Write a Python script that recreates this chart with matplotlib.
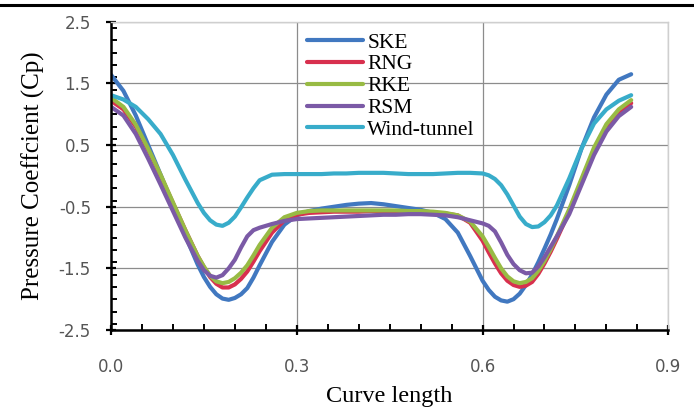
import matplotlib
matplotlib.use('Agg')
import matplotlib.pyplot as plt
from matplotlib.ticker import MultipleLocator
from matplotlib.lines import Line2D

# Curve length positions along the section (finer steps around the suction peaks)
curve_len = [0.00, 0.02, 0.04, 0.06, 0.08, 0.10, 0.12,
             0.14, 0.15, 0.16, 0.17, 0.18, 0.19, 0.20, 0.21, 0.22, 0.23, 0.24,
             0.26, 0.28, 0.30, 0.32, 0.34, 0.36, 0.38, 0.40, 0.42, 0.44, 0.46,
             0.48, 0.50, 0.52, 0.54, 0.56, 0.58,
             0.60, 0.61, 0.62, 0.63, 0.64, 0.65, 0.66, 0.67, 0.68, 0.69, 0.70,
             0.71, 0.72,
             0.74, 0.76, 0.78, 0.80, 0.82, 0.84]

# Cp for each turbulence model and the wind-tunnel test
cp_ske = [1.64, 1.38, 0.98, 0.50, 0.02, -0.47, -0.97,
          -1.44, -1.64, -1.80, -1.92, -1.99, -2.01, -1.98, -1.92, -1.82, -1.65, -1.45,
          -1.07, -0.79, -0.64, -0.57, -0.53, -0.50, -0.47, -0.45, -0.44, -0.46, -0.49,
          -0.52, -0.55, -0.60, -0.70, -0.92, -1.30,
          -1.70, -1.85, -1.96, -2.02, -2.04, -2.00, -1.91, -1.77, -1.60, -1.40, -1.18,
          -0.95, -0.70,
          -0.15, 0.45, 0.95, 1.32, 1.56, 1.65]
cp_rng = [1.22, 1.08, 0.80, 0.42, 0.00, -0.44, -0.88,
          -1.30, -1.48, -1.64, -1.75, -1.81, -1.81, -1.76, -1.67, -1.55, -1.39, -1.22,
          -0.92, -0.72, -0.63, -0.60, -0.59, -0.58, -0.58, -0.58, -0.57, -0.58, -0.58,
          -0.59, -0.59, -0.60, -0.61, -0.64, -0.76,
          -1.05, -1.24, -1.42, -1.58, -1.70, -1.77, -1.80, -1.78, -1.72, -1.59, -1.42,
          -1.23, -1.02,
          -0.58, -0.08, 0.42, 0.80, 1.04, 1.18]
cp_rke = [1.27, 1.12, 0.83, 0.44, 0.02, -0.43, -0.88,
          -1.30, -1.47, -1.62, -1.71, -1.74, -1.72, -1.66, -1.57, -1.45, -1.29, -1.12,
          -0.84, -0.67, -0.60, -0.57, -0.56, -0.56, -0.56, -0.56, -0.56, -0.56, -0.56,
          -0.57, -0.57, -0.58, -0.60, -0.64, -0.74,
          -0.98, -1.15, -1.33, -1.50, -1.63, -1.71, -1.74, -1.72, -1.66, -1.54, -1.38,
          -1.19, -0.98,
          -0.54, -0.04, 0.46, 0.84, 1.08, 1.23]
cp_rsm = [1.12, 0.98, 0.68, 0.28, -0.14, -0.57, -1.00,
          -1.38, -1.53, -1.62, -1.65, -1.61, -1.50, -1.36, -1.16, -0.98, -0.88, -0.84,
          -0.78, -0.73, -0.70, -0.69, -0.68, -0.67, -0.66, -0.65, -0.64, -0.63, -0.63,
          -0.62, -0.62, -0.63, -0.64, -0.67, -0.72,
          -0.77, -0.81, -0.90, -1.08, -1.28, -1.43, -1.53, -1.58, -1.57, -1.47, -1.32,
          -1.15, -0.98,
          -0.62, -0.14, 0.34, 0.72, 0.97, 1.12]
cp_wind = [1.31, 1.24, 1.12, 0.92, 0.68, 0.34, -0.06,
           -0.44, -0.60, -0.72, -0.79, -0.81, -0.76, -0.66, -0.51, -0.35, -0.20, -0.07,
           0.02, 0.03, 0.03, 0.03, 0.03, 0.04, 0.04, 0.05, 0.05, 0.05, 0.04,
           0.03, 0.03, 0.03, 0.04, 0.05, 0.05,
           0.04, 0.01, -0.05, -0.15, -0.30, -0.48, -0.66, -0.78, -0.83, -0.82, -0.75,
           -0.64, -0.48,
           -0.04, 0.45, 0.85, 1.08, 1.22, 1.31]

labels = ["SKE", "RNG", "RKE", "RSM", "Wind-tunnel"]
colors = ["#4178C0", "#D8304E", "#98BB44", "#7B5AA6", "#38ACCA"]
series = [cp_ske, cp_rng, cp_rke, cp_rsm, cp_wind]

xticks = [0.0, 0.3, 0.6, 0.9]
yticks = [-2.5, -1.5, -0.5, 0.5, 1.5, 2.5]

fig = plt.figure(figsize=(6.94, 4.12), dpi=100)
ax = fig.add_axes([0.160, 0.199, 0.803, 0.748])

# rule across the top of the page
fig.add_artist(Line2D([0, 1], [0.988, 0.988], color="black", lw=2.2,
                      transform=fig.transFigure))

for y, lab, c in zip(series, labels, colors):
    ax.plot(curve_len, y, color=c, lw=3.0, label=lab,
            solid_capstyle="round", solid_joinstyle="round")

ax.set_xlim(0, 0.9)
ax.set_ylim(-2.5, 2.5)
ax.set_xticks(xticks)
ax.set_xticklabels([f"{v:.1f}" for v in xticks])
ax.set_yticks(yticks)
ax.set_yticklabels([f"{v:.1f}" for v in yticks])
ax.xaxis.set_minor_locator(MultipleLocator(0.05))
ax.yaxis.set_minor_locator(MultipleLocator(0.2))

ax.grid(True, which="major", color="#8c8c8c", lw=0.9)
ax.set_axisbelow(True)

for side in ["top", "right"]:
    ax.spines[side].set_color("#cfcfcf")
    ax.spines[side].set_linewidth(1.0)
for side in ["left", "bottom"]:
    ax.spines[side].set_color("black")
    ax.spines[side].set_linewidth(1.8)

ax.tick_params(axis="both", which="major", direction="inout", length=7,
               width=1.6, color="black", labelsize=12, labelcolor="#555555")
ax.tick_params(axis="both", which="minor", direction="in", length=4,
               width=1.4, color="black")
ax.tick_params(axis="x", which="major", pad=17)
ax.tick_params(axis="y", which="major", pad=11)
ax.tick_params(top=False, right=False, which="both")

ax.set_xlabel("Curve length", family="Liberation Serif", fontsize=17.5,
              labelpad=7)
ax.set_ylabel("Pressure Coeffcient (Cp)", family="Liberation Serif",
              fontsize=18, labelpad=10)

leg = ax.legend(loc="upper left", bbox_to_anchor=(0.352, 0.965),
                frameon=False, borderpad=0, borderaxespad=0,
                handlelength=2.6, handletextpad=0.2, labelspacing=0.08,
                prop={"family": "Liberation Serif", "size": 15.5})
for h in leg.legend_handles:
    h.set_linewidth(3.0)

fig.savefig("out.png", dpi=100)
